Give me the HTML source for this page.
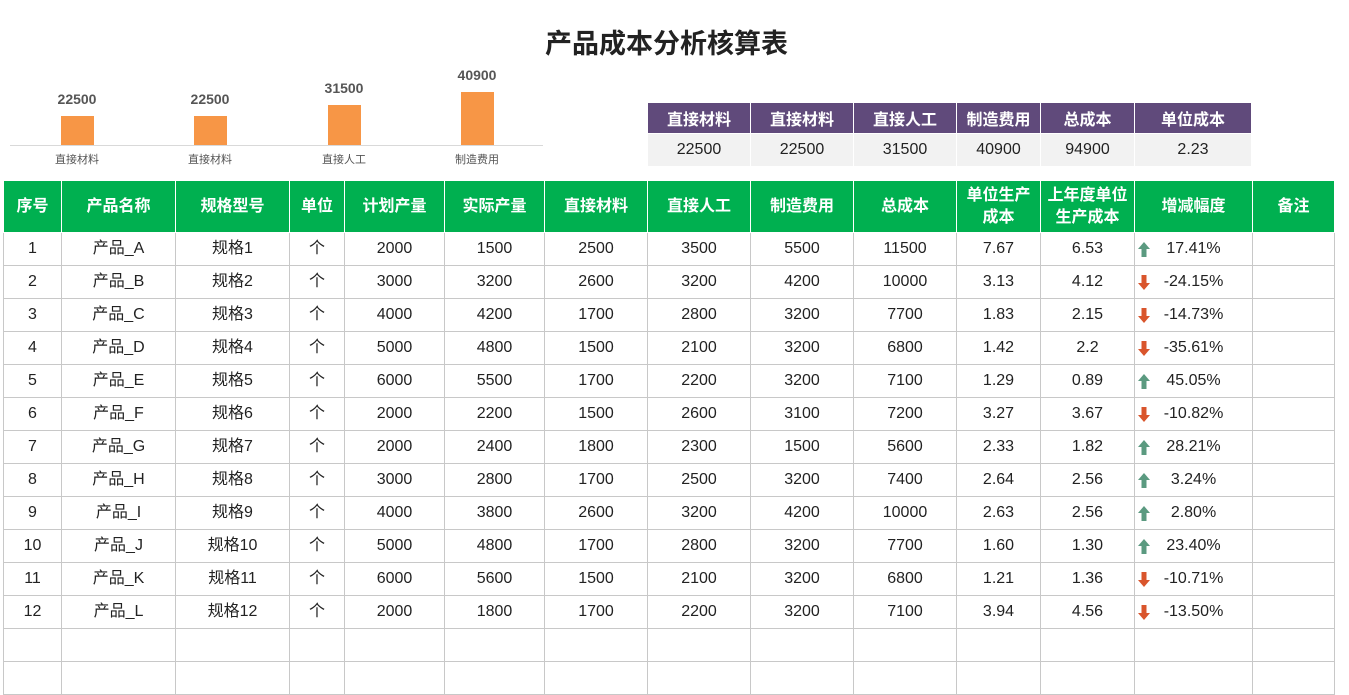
<!DOCTYPE html>
<html><head><meta charset="utf-8"><style>
body{margin:0;width:1349px;height:695px;background:#fff;font-family:"Liberation Sans","Noto Sans CJK SC",sans-serif;position:relative;overflow:hidden}
.t{position:absolute;top:22px;left:-8px;width:1349px;text-align:center;font-size:27px;font-weight:bold;color:#222}
.bar{position:absolute;width:33px;background:#f79646}
.bl{position:absolute;width:100px;text-align:center;font-size:14px;font-weight:bold;color:#555}
.cl{position:absolute;width:100px;text-align:center;font-size:11px;color:#555;top:151px}
table{border-collapse:collapse;table-layout:fixed;position:absolute}
#m{left:3px;top:180px;width:1331px}
#m td{border:1px solid #c8c8c8;text-align:center;font-size:16px;color:#222;height:32px;padding:0;white-space:nowrap;line-height:20px;vertical-align:middle}
#m td span{display:inline-block;vertical-align:middle;line-height:20px}
#m tr.h td{background:#00b050;color:#fff;font-weight:bold;border-color:#fff;height:51px;font-size:16px;line-height:22px}
#s{left:647px;top:102px;width:604px}
#s td{text-align:center;font-size:16px;padding:0;border:1px solid #fff}
#s tr.h td{background:#604a7b;color:#fff;font-weight:bold;height:30px}
#s tr.v td{background:#f2f2f2;color:#222;height:32px}
.ar{width:14px;height:17px;position:absolute;left:2px;top:8px}
.p{position:relative}
</style></head><body>
<div class="t">产品成本分析核算表</div>
<div style="position:absolute;left:10px;top:145px;width:533px;height:1px;background:#d9d9d9"></div>
<div class="bar" style="left:61px;top:116px;height:29px"></div>
<div class="bar" style="left:194px;top:116px;height:29px"></div>
<div class="bar" style="left:328px;top:105px;height:40px"></div>
<div class="bar" style="left:461px;top:92px;height:53px"></div>
<div class="bl" style="left:27px;top:91px">22500</div>
<div class="bl" style="left:160px;top:91px">22500</div>
<div class="bl" style="left:294px;top:80px">31500</div>
<div class="bl" style="left:427px;top:67px">40900</div>
<div class="cl" style="left:27px">直接材料</div>
<div class="cl" style="left:160px">直接材料</div>
<div class="cl" style="left:294px">直接人工</div>
<div class="cl" style="left:427px">制造费用</div>
<table id="s"><colgroup><col style="width:103px"><col style="width:103px"><col style="width:103px"><col style="width:84px"><col style="width:94px"><col style="width:117px"></colgroup>
<tr class="h"><td>直接材料</td><td>直接材料</td><td>直接人工</td><td>制造费用</td><td>总成本</td><td>单位成本</td></tr>
<tr class="v"><td>22500</td><td>22500</td><td>31500</td><td>40900</td><td>94900</td><td>2.23</td></tr></table>
<table id="m"><colgroup><col style="width:58px"><col style="width:114px"><col style="width:114px"><col style="width:55px"><col style="width:100px"><col style="width:100px"><col style="width:103px"><col style="width:103px"><col style="width:103px"><col style="width:103px"><col style="width:84px"><col style="width:94px"><col style="width:118px"><col style="width:82px"></colgroup>
<tr class="h"><td>序号</td><td>产品名称</td><td>规格型号</td><td>单位</td><td>计划产量</td><td>实际产量</td><td>直接材料</td><td>直接人工</td><td>制造费用</td><td>总成本</td><td>单位生产<br>成本</td><td>上年度单位<br>生产成本</td><td>增减幅度</td><td>备注</td></tr>
<tr><td><span>1</span></td><td><span>产品_A</span></td><td><span>规格1</span></td><td><span>个</span></td><td><span>2000</span></td><td><span>1500</span></td><td><span>2500</span></td><td><span>3500</span></td><td><span>5500</span></td><td><span>11500</span></td><td><span>7.67</span></td><td><span>6.53</span></td><td class="p"><svg class="ar" viewBox="0 0 14 17"><path d="M7 1L13 8H9.5V16H4.5V8H1Z" fill="#5b9a80"/></svg><span>17.41%</span></td><td></td></tr>
<tr><td><span>2</span></td><td><span>产品_B</span></td><td><span>规格2</span></td><td><span>个</span></td><td><span>3000</span></td><td><span>3200</span></td><td><span>2600</span></td><td><span>3200</span></td><td><span>4200</span></td><td><span>10000</span></td><td><span>3.13</span></td><td><span>4.12</span></td><td class="p"><svg class="ar" viewBox="0 0 14 17"><path d="M7 16L13 9H9.5V1H4.5V9H1Z" fill="#d9552c"/></svg><span>-24.15%</span></td><td></td></tr>
<tr><td><span>3</span></td><td><span>产品_C</span></td><td><span>规格3</span></td><td><span>个</span></td><td><span>4000</span></td><td><span>4200</span></td><td><span>1700</span></td><td><span>2800</span></td><td><span>3200</span></td><td><span>7700</span></td><td><span>1.83</span></td><td><span>2.15</span></td><td class="p"><svg class="ar" viewBox="0 0 14 17"><path d="M7 16L13 9H9.5V1H4.5V9H1Z" fill="#d9552c"/></svg><span>-14.73%</span></td><td></td></tr>
<tr><td><span>4</span></td><td><span>产品_D</span></td><td><span>规格4</span></td><td><span>个</span></td><td><span>5000</span></td><td><span>4800</span></td><td><span>1500</span></td><td><span>2100</span></td><td><span>3200</span></td><td><span>6800</span></td><td><span>1.42</span></td><td><span>2.2</span></td><td class="p"><svg class="ar" viewBox="0 0 14 17"><path d="M7 16L13 9H9.5V1H4.5V9H1Z" fill="#d9552c"/></svg><span>-35.61%</span></td><td></td></tr>
<tr><td><span>5</span></td><td><span>产品_E</span></td><td><span>规格5</span></td><td><span>个</span></td><td><span>6000</span></td><td><span>5500</span></td><td><span>1700</span></td><td><span>2200</span></td><td><span>3200</span></td><td><span>7100</span></td><td><span>1.29</span></td><td><span>0.89</span></td><td class="p"><svg class="ar" viewBox="0 0 14 17"><path d="M7 1L13 8H9.5V16H4.5V8H1Z" fill="#5b9a80"/></svg><span>45.05%</span></td><td></td></tr>
<tr><td><span>6</span></td><td><span>产品_F</span></td><td><span>规格6</span></td><td><span>个</span></td><td><span>2000</span></td><td><span>2200</span></td><td><span>1500</span></td><td><span>2600</span></td><td><span>3100</span></td><td><span>7200</span></td><td><span>3.27</span></td><td><span>3.67</span></td><td class="p"><svg class="ar" viewBox="0 0 14 17"><path d="M7 16L13 9H9.5V1H4.5V9H1Z" fill="#d9552c"/></svg><span>-10.82%</span></td><td></td></tr>
<tr><td><span>7</span></td><td><span>产品_G</span></td><td><span>规格7</span></td><td><span>个</span></td><td><span>2000</span></td><td><span>2400</span></td><td><span>1800</span></td><td><span>2300</span></td><td><span>1500</span></td><td><span>5600</span></td><td><span>2.33</span></td><td><span>1.82</span></td><td class="p"><svg class="ar" viewBox="0 0 14 17"><path d="M7 1L13 8H9.5V16H4.5V8H1Z" fill="#5b9a80"/></svg><span>28.21%</span></td><td></td></tr>
<tr><td><span>8</span></td><td><span>产品_H</span></td><td><span>规格8</span></td><td><span>个</span></td><td><span>3000</span></td><td><span>2800</span></td><td><span>1700</span></td><td><span>2500</span></td><td><span>3200</span></td><td><span>7400</span></td><td><span>2.64</span></td><td><span>2.56</span></td><td class="p"><svg class="ar" viewBox="0 0 14 17"><path d="M7 1L13 8H9.5V16H4.5V8H1Z" fill="#5b9a80"/></svg><span>3.24%</span></td><td></td></tr>
<tr><td><span>9</span></td><td><span>产品_I</span></td><td><span>规格9</span></td><td><span>个</span></td><td><span>4000</span></td><td><span>3800</span></td><td><span>2600</span></td><td><span>3200</span></td><td><span>4200</span></td><td><span>10000</span></td><td><span>2.63</span></td><td><span>2.56</span></td><td class="p"><svg class="ar" viewBox="0 0 14 17"><path d="M7 1L13 8H9.5V16H4.5V8H1Z" fill="#5b9a80"/></svg><span>2.80%</span></td><td></td></tr>
<tr><td><span>10</span></td><td><span>产品_J</span></td><td><span>规格10</span></td><td><span>个</span></td><td><span>5000</span></td><td><span>4800</span></td><td><span>1700</span></td><td><span>2800</span></td><td><span>3200</span></td><td><span>7700</span></td><td><span>1.60</span></td><td><span>1.30</span></td><td class="p"><svg class="ar" viewBox="0 0 14 17"><path d="M7 1L13 8H9.5V16H4.5V8H1Z" fill="#5b9a80"/></svg><span>23.40%</span></td><td></td></tr>
<tr><td><span>11</span></td><td><span>产品_K</span></td><td><span>规格11</span></td><td><span>个</span></td><td><span>6000</span></td><td><span>5600</span></td><td><span>1500</span></td><td><span>2100</span></td><td><span>3200</span></td><td><span>6800</span></td><td><span>1.21</span></td><td><span>1.36</span></td><td class="p"><svg class="ar" viewBox="0 0 14 17"><path d="M7 16L13 9H9.5V1H4.5V9H1Z" fill="#d9552c"/></svg><span>-10.71%</span></td><td></td></tr>
<tr><td><span>12</span></td><td><span>产品_L</span></td><td><span>规格12</span></td><td><span>个</span></td><td><span>2000</span></td><td><span>1800</span></td><td><span>1700</span></td><td><span>2200</span></td><td><span>3200</span></td><td><span>7100</span></td><td><span>3.94</span></td><td><span>4.56</span></td><td class="p"><svg class="ar" viewBox="0 0 14 17"><path d="M7 16L13 9H9.5V1H4.5V9H1Z" fill="#d9552c"/></svg><span>-13.50%</span></td><td></td></tr>
<tr><td></td><td></td><td></td><td></td><td></td><td></td><td></td><td></td><td></td><td></td><td></td><td></td><td></td><td></td></tr>
<tr><td></td><td></td><td></td><td></td><td></td><td></td><td></td><td></td><td></td><td></td><td></td><td></td><td></td><td></td></tr>
</table>
</body></html>
